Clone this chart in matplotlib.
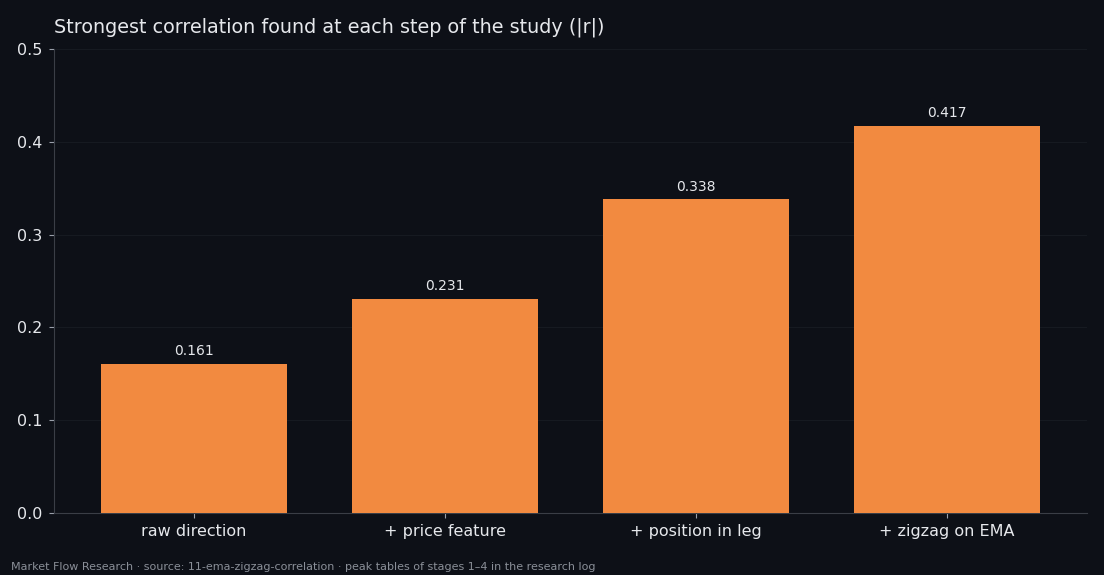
import matplotlib
matplotlib.use("Agg")
import matplotlib.pyplot as plt

# data
steps = ["raw direction", "+ price feature", "+ position in leg", "+ zigzag on EMA"]
abs_r = [0.161, 0.231, 0.338, 0.417]
yticks = [0.0, 0.1, 0.2, 0.3, 0.4, 0.5]

BG = "#0d1017"
BAR = "#f28a40"
TXT = "#e6e8ec"

fig = plt.figure(figsize=(11.04, 5.75), dpi=100, facecolor=BG)
ax = fig.add_axes([54 / 1104, 1 - 513 / 575, 1033 / 1104, 464 / 575])
ax.set_facecolor(BG)

x = list(range(len(steps)))
bars = ax.bar(x, abs_r, width=0.74, color=BAR, zorder=3)
for b, v in zip(bars, abs_r):
    ax.text(b.get_x() + b.get_width() / 2, v + 0.006, f"{v:.3f}",
            ha="center", va="bottom", color=TXT, fontsize=10)

ax.set_ylim(0, 0.5)
ax.set_yticks(yticks)
ax.set_yticklabels([f"{t:.1f}" for t in yticks])
ax.set_xticks(x)
ax.set_xticklabels(steps)
ax.tick_params(axis="both", colors="#9aa0aa", labelcolor=TXT, labelsize=11.5)
ax.tick_params(axis="y", pad=5)
ax.tick_params(axis="x", pad=4.5)
ax.grid(axis="y", color="#161a21", linewidth=0.8, zorder=0)
for s in ["top", "right"]:
    ax.spines[s].set_visible(False)
for s in ["left", "bottom"]:
    ax.spines[s].set_color("#3a3e46")

ax.set_title("Strongest correlation found at each step of the study (|r|)",
             loc="left", color=TXT, fontsize=13.8, pad=12)

fig.text(11 / 1104, 1 - 567 / 575, "Market Flow Research · source: 11-ema-zigzag-correlation · "
         "peak tables of stages 1–4 in the research log",
         color="#8a8f98", fontsize=8, va="center", ha="left")

fig.savefig("out.png", dpi=100, facecolor=BG)
